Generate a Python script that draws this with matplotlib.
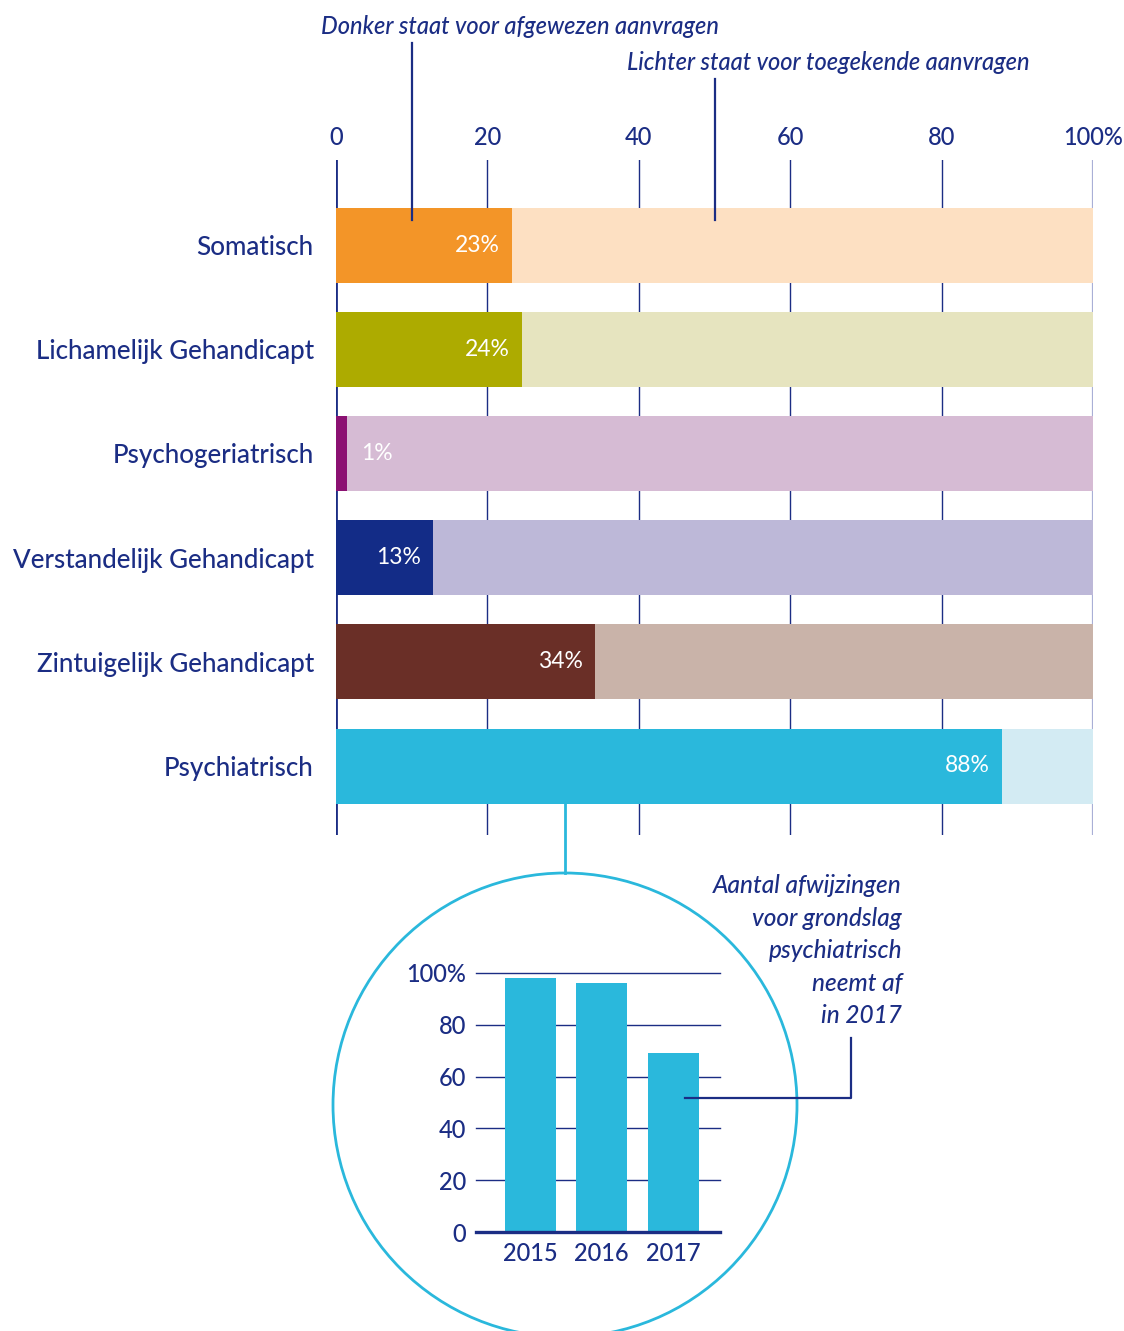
import matplotlib
matplotlib.use("Agg")
import matplotlib.pyplot as plt
from matplotlib.patches import Circle
from matplotlib.lines import Line2D

plt.rcParams['font.family'] = ['Lato', 'DejaVu Sans']

categories = ["Somatisch", "Lichamelijk Gehandicapt", "Psychogeriatrisch",
              "Verstandelijk Gehandicapt", "Zintuigelijk Gehandicapt", "Psychiatrisch"]
rejected = [23.2, 24.6, 1.4, 12.8, 34.2, 88.0]
labels = ["23%", "24%", "1%", "13%", "34%", "88%"]
dark_colors = ["#f39528", "#adab00", "#8b1172", "#132c87", "#6a2f27", "#2ab8dc"]
light_colors = ["#fde0c2", "#e6e4bf", "#d6bbd4", "#bdb8d8", "#c9b3a9", "#d3ebf3"]
xticks = [0, 20, 40, 60, 80, 100]
xticklabels = ["0", "20", "40", "60", "80", "100%"]

years = ["2015", "2016", "2017"]
psych_rejections = [98.2, 96.3, 69.3]
inset_yticks = [0, 20, 40, 60, 80, 100]
inset_yticklabels = ["0", "20", "40", "60", "80", "100%"]

NAVY = "#1b2d84"
CYAN = "#2ab8dc"
WT = "medium"

W, H = 1124, 1331
fig = plt.figure(figsize=(W / 100, H / 100), dpi=100)

def fx(px):
    return px / W

def fy(py):
    return 1 - py / H

# ---- main chart
ax = fig.add_axes([fx(336), fy(835), fx(1093) - fx(336), fy(160) - fy(835)])
unit = 104.2
ax.set_xlim(0, 100)
ax.set_ylim((835 - 245) / unit, (160 - 245) / unit)
n = len(categories)
ypos = list(range(n))
bh = 75 / unit
ax.barh(ypos, [100] * n, height=bh, color=light_colors, zorder=2)
ax.barh(ypos, rejected, height=bh, color=dark_colors, zorder=3)
for i, (v, lab) in enumerate(zip(rejected, labels)):
    if v < 5:
        ax.text(v + 1.9, i, lab, color="white", ha="left", va="center", fontsize=16.5, zorder=4)
    else:
        ax.text(v - 1.6, i, lab, color="white", ha="right", va="center", fontsize=16.5, zorder=4)

for x in xticks:
    if x == 0:
        ax.axvline(x, color=NAVY, lw=2, zorder=1)
    elif x == 100:
        ax.axvline(x, color="#a9afd6", lw=1.6, zorder=1)
    else:
        ax.axvline(x, color=NAVY, lw=1, zorder=1)

for s in ax.spines.values():
    s.set_visible(False)
ax.xaxis.tick_top()
ax.set_xticks(xticks)
ax.set_xticklabels(xticklabels, fontsize=17, color=NAVY, fontweight=WT)
ax.set_yticks(ypos)
ax.set_yticklabels(categories, fontsize=18.7, color=NAVY, fontweight=WT)
ax.tick_params(axis="x", length=0, pad=8)
ax.tick_params(axis="y", length=0, pad=16)

# legend-style annotations
ax.plot([10, 10], [(43 - 245) / unit, (220 - 245) / unit], color=NAVY, lw=1.6, clip_on=False, zorder=5)
ax.plot([50, 50], [(79 - 245) / unit, (220 - 245) / unit], color=NAVY, lw=1.6, clip_on=False, zorder=5)
fig.text(fx(520), fy(27), "Donker staat voor afgewezen aanvragen", ha="center", va="center",
         fontsize=17, style="italic", color=NAVY, fontweight=WT)
fig.text(fx(828), fy(63), "Lichter staat voor toegekende aanvragen", ha="center", va="center",
         fontsize=17, style="italic", color=NAVY, fontweight=WT)

# connector from Psychiatrisch bar to circle
ax.plot([30.25, 30.25], [5 + bh / 2, (873 - 245) / unit], color=CYAN, lw=2, clip_on=False, zorder=5)

# circle
circ = Circle((565 / 100, (H - 1105) / 100), 232 / 100, transform=fig.dpi_scale_trans,
              fill=False, edgecolor=CYAN, lw=2)
fig.add_artist(circ)

# ---- inset chart
ax2 = fig.add_axes([fx(476), fy(1232), fx(720) - fx(476), fy(973) - fy(1232)])
u2 = 71.5
ax2.set_xlim(-54 / u2, (244 - 54) / u2)
ax2.set_ylim(0, 100)
ax2.bar(range(len(years)), psych_rejections, width=51 / u2, color=CYAN, zorder=3)
for y in inset_yticks:
    if y == 0:
        ax2.axhline(y, color=NAVY, lw=2.4, zorder=4, clip_on=False)
    else:
        ax2.axhline(y, color=NAVY, lw=1, zorder=1, clip_on=False)
for s in ax2.spines.values():
    s.set_visible(False)
ax2.set_yticks(inset_yticks)
ax2.set_yticklabels(inset_yticklabels, fontsize=17, color=NAVY, fontweight=WT)
ax2.set_xticks(range(len(years)))
ax2.set_xticklabels(years, fontsize=17, color=NAVY, fontweight=WT)
ax2.tick_params(axis="y", length=0, pad=7)
ax2.tick_params(axis="x", length=0, pad=7)

# callout
fig.text(fx(902), fy(874), "Aantal afwijzingen\nvoor grondslag\npsychiatrisch\nneemt af\nin 2017",
         ha="right", va="top", fontsize=17.6, style="italic", color=NAVY, fontweight=WT,
         linespacing=1.5)
fig.add_artist(Line2D([fx(685), fx(851), fx(851)], [fy(1098), fy(1098), fy(1038)],
                      transform=fig.transFigure, color=NAVY, lw=1.6))

fig.savefig("out.png", dpi=100)
